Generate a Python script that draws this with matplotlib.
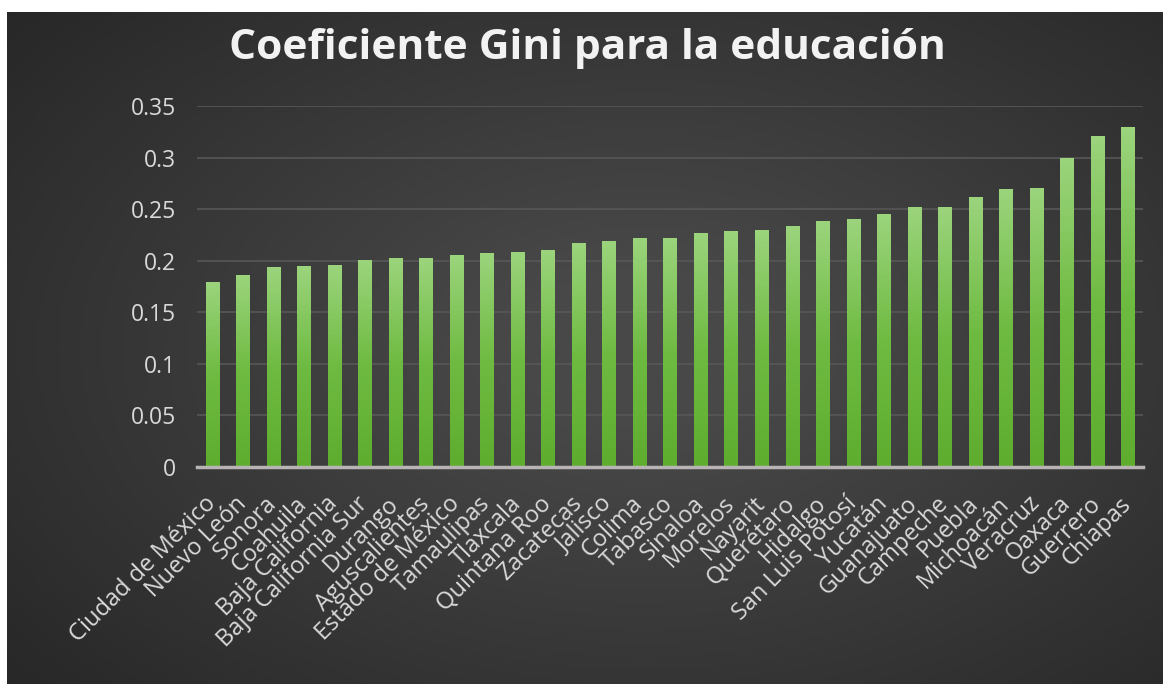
import numpy as np
import matplotlib.pyplot as plt
from matplotlib.colors import LinearSegmentedColormap

estados = ['Ciudad de México', 'Nuevo León', 'Sonora', 'Coahuila', 'Baja California',
           'Baja California Sur', 'Durango', 'Aguscalientes', 'Estado de México',
           'Tamaulipas', 'Tlaxcala', 'Quintana Roo', 'Zacatecas', 'Jalisco', 'Colima',
           'Tabasco', 'Sinaloa', 'Morelos', 'Nayarit', 'Querétaro', 'Hidalgo',
           'San Luis Potosí', 'Yucatán', 'Guanajuato', 'Campeche', 'Puebla',
           'Michoacán', 'Veracruz', 'Oaxaca', 'Guerrero', 'Chiapas']
gini = [0.179, 0.186, 0.193, 0.194, 0.195, 0.200, 0.202, 0.202, 0.205, 0.207, 0.208,
        0.210, 0.217, 0.219, 0.222, 0.222, 0.226, 0.228, 0.229, 0.233, 0.238, 0.240,
        0.245, 0.252, 0.252, 0.261, 0.269, 0.270, 0.299, 0.320, 0.329]
yticks = [0, 0.05, 0.1, 0.15, 0.2, 0.25, 0.3, 0.35]
yticklabels = ['0', '0.05', '0.1', '0.15', '0.2', '0.25', '0.3', '0.35']

plt.rcParams['font.family'] = ['Open Sans', 'DejaVu Sans']
W, H = 1163, 684
fig = plt.figure(figsize=(W / 100, H / 100), dpi=100, facecolor='white')

# dark radial background
bg = fig.add_axes([7 / W, 0, 1 - 7 / W, 1 - 12 / H])
bg.set_axis_off()
yy, xx = np.mgrid[0:1:300j, 0:1:500j]
r = np.sqrt(((xx - 0.55) / 0.75) ** 2 + ((yy - 0.5) / 0.8) ** 2)
shade = np.clip(1 - r, 0, 1)
bg_cmap = LinearSegmentedColormap.from_list('bg', ['#262626', '#484848'])
bg.imshow(shade, cmap=bg_cmap, aspect='auto', extent=(0, 1, 0, 1), vmin=0, vmax=0.85)

ax = fig.add_axes([197 / W, 1 - 467 / H, (1143 - 197) / W, (467 - 106) / H])
ax.patch.set_alpha(0)
x = np.arange(len(estados))
bars = ax.bar(x, gini, width=0.43, color='none', zorder=3)

# green vertical gradient inside each bar
grad = np.linspace(0, 1, 100).reshape(-1, 1)
bar_cmap = LinearSegmentedColormap.from_list('g', ['#5ead2f', '#6fbb42', '#9bd47c'])
for b in bars:
    x0, w, h = b.get_x(), b.get_width(), b.get_height()
    ax.imshow(grad, cmap=bar_cmap, origin='lower', aspect='auto',
              extent=(x0, x0 + w, 0, h), zorder=3)

ax.set_xlim(-0.5, len(estados) - 0.5)
ax.set_ylim(0, 0.35)
ax.set_yticks(yticks)
ax.set_yticklabels(yticklabels)
ax.grid(axis='y', color='#575757', linewidth=1.2, zorder=1)
ax.set_axisbelow(True)
for s in ['top', 'right', 'left']:
    ax.spines[s].set_visible(False)
ax.spines['bottom'].set_color('#b9b4b4')
ax.spines['bottom'].set_linewidth(2.5)
ax.spines['bottom'].set_zorder(4)
ax.tick_params(length=0, colors='#d9d9d9', labelsize=16.5)
ax.tick_params(axis='y', pad=15)
ax.set_xticks(x)
ax.set_xticklabels(estados, rotation=45, ha='right', va='center',
                   rotation_mode='anchor', fontsize=17, color='#d9d9d9')
ax.tick_params(axis='x', pad=24)

fig.text(0.505, 0.929, 'Coeficiente Gini para la educación', ha='center', va='center',
         fontsize=30.5, fontweight='bold', color='#f2f2f2')

fig.savefig('out.png', dpi=100, facecolor='white')
